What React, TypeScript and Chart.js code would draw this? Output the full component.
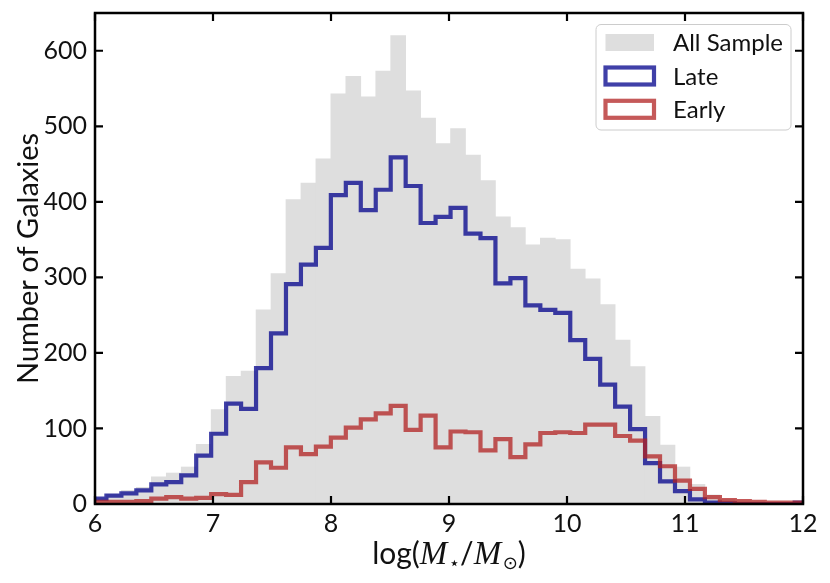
import React, { useEffect, useRef } from 'react';
import { Chart, registerables } from 'chart.js';

Chart.register(...registerables);

// ---- data ----
const BIN_START = 5.97;
const BIN_WIDTH = 0.1268;

const allSample = [
  8, 13, 18, 22, 36, 41, 49, 79, 125, 169, 176, 257, 305, 403, 425, 457,
  543, 566, 539, 573, 620, 547, 511, 477, 497, 462, 428, 380, 366, 343, 352, 350,
  311, 298, 264, 217, 182, 116, 78, 49, 26, 12, 6, 4, 3, 2, 2, 3,
];
const late = [
  7, 11, 14, 18, 26, 29, 38, 64, 93, 133, 126, 180, 226, 291, 317, 339,
  409, 425, 389, 416, 459, 421, 372, 380, 392, 358, 352, 292, 299, 263, 257, 253,
  217, 192, 158, 129, 99, 54, 30, 17, 6, 2, 1, 0, 0, 0, 0, 2,
];
const early = [
  3, 3, 3, 4, 7, 9, 7, 8, 13, 12, 29, 55, 48, 75, 66, 76,
  88, 101, 112, 120, 130, 98, 117, 75, 96, 95, 71, 86, 62, 79, 94, 95,
  94, 105, 105, 90, 84, 63, 50, 31, 20, 9, 5, 4, 3, 2, 2, 2,
];

const xTicks = [6, 7, 8, 9, 10, 11, 12];
const yTicks = [0, 100, 200, 300, 400, 500, 600];
const seriesLabels = ['All Sample', 'Late', 'Early'];
const yTitle = 'Number of Galaxies';
const xTitleParts = [
  { text: 'log(', math: false, sub: false },
  { text: 'M', math: true, sub: false },
  { text: '⋆', math: false, sub: true },
  { text: '/', math: false, sub: false },
  { text: 'M', math: true, sub: false },
  { text: '⊙', math: false, sub: true },
  { text: ')', math: false, sub: false },
];

const GRAY = 'rgb(222,222,222)';
const BLUE = 'rgba(0,0,139,0.75)';
const RED = 'rgba(178,34,34,0.75)';
const FONT = 'Lato';

function barPoints(values: number[]) {
  return values.map((v, i) => ({ x: BIN_START + (i + 0.5) * BIN_WIDTH, y: v }));
}
function stepPoints(values: number[]) {
  const pts = values.map((v, i) => ({ x: BIN_START + i * BIN_WIDTH, y: v }));
  pts.push({ x: BIN_START + values.length * BIN_WIDTH, y: values[values.length - 1] });
  pts.push({ x: BIN_START + values.length * BIN_WIDTH, y: 0 });
  return pts;
}

const framePlugin = {
  id: 'frameTicks',
  afterDatasetsDraw(chart: any) {
    const { ctx, chartArea, scales } = chart;
    const { left, right, top, bottom } = chartArea;
    const xs = scales.x;
    const ys = scales.y;
    ctx.save();
    ctx.strokeStyle = '#000';
    ctx.lineWidth = 2.2;
    ctx.lineCap = 'butt';
    ctx.beginPath();
    const L = 8;
    xTicks.forEach((v) => {
      const px = xs.getPixelForValue(v);
      ctx.moveTo(px, bottom);
      ctx.lineTo(px, bottom - L);
      ctx.moveTo(px, top);
      ctx.lineTo(px, top + L);
    });
    yTicks.forEach((v) => {
      const py = ys.getPixelForValue(v);
      ctx.moveTo(left, py);
      ctx.lineTo(left + L, py);
      ctx.moveTo(right, py);
      ctx.lineTo(right - L, py);
    });
    ctx.stroke();
    ctx.lineWidth = 2.5;
    ctx.strokeRect(left, top, right - left, bottom - top);
    ctx.restore();
  },
};

const legendPlugin = {
  id: 'insideLegend',
  afterDatasetsDraw(chart: any) {
    const { ctx, chartArea } = chart;
    const boxRight = chartArea.right - 12;
    const boxLeft = boxRight - 195;
    const boxTop = chartArea.top + 11.5;
    const boxH = 105.5;
    ctx.save();
    ctx.beginPath();
    ctx.roundRect(boxLeft, boxTop, boxRight - boxLeft, boxH, 5);
    ctx.fillStyle = 'rgba(255,255,255,0.85)';
    ctx.fill();
    ctx.strokeStyle = '#cccccc';
    ctx.lineWidth = 1;
    ctx.stroke();

    const rows = [boxTop + 18, boxTop + 51.5, boxTop + 84.8];
    const px0 = boxLeft + 9.5;
    const pw = 48.5;
    const ph = 17;
    const ds = chart.data.datasets;
    [0, 1, 2].forEach((di, r) => {
      const d = ds[di];
      const cy = rows[r];
      if (di === 0) {
        ctx.fillStyle = GRAY;
        ctx.fillRect(px0, cy - ph / 2, pw, ph);
      } else {
        ctx.strokeStyle = d.borderColor;
        ctx.lineWidth = 4.2;
        ctx.lineJoin = 'miter';
        ctx.strokeRect(px0, cy - ph / 2, pw, ph);
      }
      ctx.fillStyle = '#111';
      ctx.font = `24px ${FONT}`;
      ctx.textAlign = 'left';
      ctx.textBaseline = 'alphabetic';
      ctx.fillText(d.label, boxLeft + 77, cy + 8.5);
    });
    ctx.restore();
  },
};

const titlesPlugin = {
  id: 'axisTitles',
  afterDraw(chart: any) {
    const { ctx, chartArea } = chart;
    ctx.save();
    ctx.fillStyle = '#111';
    // y title
    ctx.translate(29, (chartArea.top + chartArea.bottom) / 2);
    ctx.rotate(-Math.PI / 2);
    ctx.font = `29px ${FONT}`;
    ctx.textAlign = 'center';
    ctx.textBaseline = 'middle';
    ctx.fillText(yTitle, 0, 0);
    ctx.restore();

    // x title with math parts
    ctx.save();
    ctx.fillStyle = '#111';
    ctx.textBaseline = 'alphabetic';
    ctx.textAlign = 'left';
    const fontFor = (p: any) =>
      p.math ? `italic 33px "Liberation Serif"` : p.sub ? `18px "DejaVu Sans"` : `30px ${FONT}`;
    let total = 0;
    const widths = xTitleParts.map((p) => {
      ctx.font = fontFor(p);
      const w = ctx.measureText(p.text).width + (p.math ? 1.5 : 0);
      total += w;
      return w;
    });
    let x = (chartArea.left + chartArea.right) / 2 - total / 2;
    const base = 564;
    xTitleParts.forEach((p, i) => {
      ctx.font = fontFor(p);
      ctx.fillText(p.text, x, p.sub ? base + 5 : base);
      x += widths[i];
    });
    ctx.restore();
  },
};

export default function App() {
  const ref = useRef<HTMLCanvasElement>(null);
  useEffect(() => {
    const canvas = ref.current;
    if (!canvas) return;
    const chart = new Chart(canvas, {
      type: 'bar',
      data: {
        datasets: [
          {
            type: 'bar',
            label: seriesLabels[0],
            data: barPoints(allSample),
            backgroundColor: GRAY,
            borderWidth: 0,
            barPercentage: 1,
            categoryPercentage: 1,
            grouped: false,
            order: 3,
          } as any,
          {
            type: 'line',
            label: seriesLabels[1],
            data: stepPoints(late),
            borderColor: BLUE,
            backgroundColor: BLUE,
            borderWidth: 4.2,
            stepped: true,
            pointRadius: 0,
            fill: false,
            borderJoinStyle: 'miter',
            order: 2,
          } as any,
          {
            type: 'line',
            label: seriesLabels[2],
            data: stepPoints(early),
            borderColor: RED,
            backgroundColor: RED,
            borderWidth: 4.2,
            stepped: true,
            pointRadius: 0,
            fill: false,
            borderJoinStyle: 'miter',
            order: 1,
          } as any,
        ],
      },
      options: {
        animation: false,
        responsive: false,
        maintainAspectRatio: false,
        layout: { padding: { left: 0, right: 27, top: 13, bottom: 0 } },
        plugins: {
          legend: { display: false },
          tooltip: { enabled: false },
          title: { display: false },
        },
        scales: {
          x: {
            type: 'linear',
            min: 6,
            max: 12,
            offset: false,
            grid: { display: false, drawTicks: false },
            border: { display: false },
            ticks: {
              autoSkip: false,
              maxRotation: 0,
              padding: 5,
              color: '#111',
              font: { family: FONT, size: 25 },
            },
            afterBuildTicks: (s: any) => {
              s.ticks = xTicks.map((v) => ({ value: v }));
            },
            afterFit: (s: any) => {
              s.height = 79;
              s.paddingLeft = 0;
              s.paddingRight = 0;
            },
          },
          y: {
            type: 'linear',
            min: 0,
            max: 650,
            grid: { display: false, drawTicks: false },
            border: { display: false },
            ticks: {
              autoSkip: false,
              padding: 8,
              color: '#111',
              font: { family: FONT, size: 25 },
            },
            afterBuildTicks: (s: any) => {
              s.ticks = yTicks.map((v) => ({ value: v }));
            },
            afterFit: (s: any) => {
              s.width = 95;
              s.paddingTop = 0;
              s.paddingBottom = 0;
            },
          },
        },
      } as any,
      plugins: [framePlugin, legendPlugin, titlesPlugin],
    });
    return () => chart.destroy();
  }, []);

  return (
    <div style={{ position: 'fixed', left: 0, top: 0, width: 830, height: 583, background: '#fff' }}>
      <canvas ref={ref} width={830} height={583} style={{ width: 830, height: 583, display: 'block' }} />
    </div>
  );
}
